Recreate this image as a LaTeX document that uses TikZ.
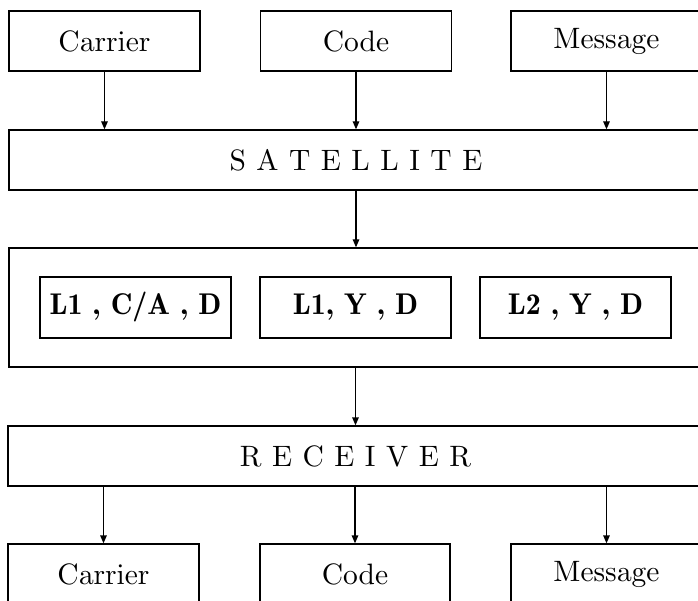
\documentclass[tikz,border=0pt]{standalone}
\usetikzlibrary{arrows.meta}
\font\bigrm=cmr10 at 29.5pt
\font\bigbf=cmb10 at 30pt
\newcommand{\lsp}{\hspace{10.5pt}}
\begin{document}
\begin{tikzpicture}[x=1pt,y=-1pt,
  box/.style={draw, line width=1.3pt, inner sep=0pt, minimum width=191pt, minimum height=60pt, font=\bigrm},
  wide/.style={draw, line width=1.3pt, inner sep=0pt, minimum width=694pt, minimum height=60pt, font=\bigrm},
  inner/.style={draw, line width=1.3pt, inner sep=0pt, minimum width=191pt, minimum height=61pt, font=\bigbf},
  arr/.style={line width=1.3pt, -{Triangle[length=8pt,width=6.5pt]}}]
\useasboundingbox (0,0) rectangle (698,601);
% top row
\node[box] (carrier1) at (104.5,41) {Carrier};
\node[box] (code1) at (356,41) {Code};
\node[box] (msg1) at (606.5,41) {Message};
% satellite
\node[wide] (sat) at (356,160) {S\lsp A\lsp T\lsp E\lsp L\lsp L\lsp I\lsp T\lsp E};
% middle
\node[draw, line width=1.3pt, minimum width=694pt, minimum height=119pt, inner sep=0pt] (mid) at (356,307.5) {};
\node[inner] (s1) at (135.5,307.5) {L1 , C/A , D};
\node[inner] (s2) at (355.5,307.5) {L1, Y , D};
\node[inner] (s3) at (575.5,307.5) {L2 , Y , D};
% receiver
\node[wide, minimum width=695pt] (rec) at (355.5,456) {R\lsp E\lsp C\lsp E\lsp I\lsp V\lsp E\lsp R};
% bottom row
\node[box] (carrier2) at (103.5,574) {Carrier};
\node[box, minimum width=190pt] (code2) at (355,574) {Code};
\node[box] (msg2) at (606.5,574) {Message};
% arrows
\draw[arr] (carrier1.south) -- (carrier1.south |- sat.north);
\draw[arr] (code1.south) -- (code1.south |- sat.north);
\draw[arr] (msg1.south) -- (msg1.south |- sat.north);
\draw[arr] (sat.south) -- (mid.north);
\draw[arr] (mid.south -| rec.north) -- (rec.north);
\draw[arr] (rec.south -| carrier2.north) -- (carrier2.north);
\draw[arr] (rec.south -| code2.north) -- (code2.north);
\draw[arr] (rec.south -| msg2.north) -- (msg2.north);
\end{tikzpicture}
\end{document}
